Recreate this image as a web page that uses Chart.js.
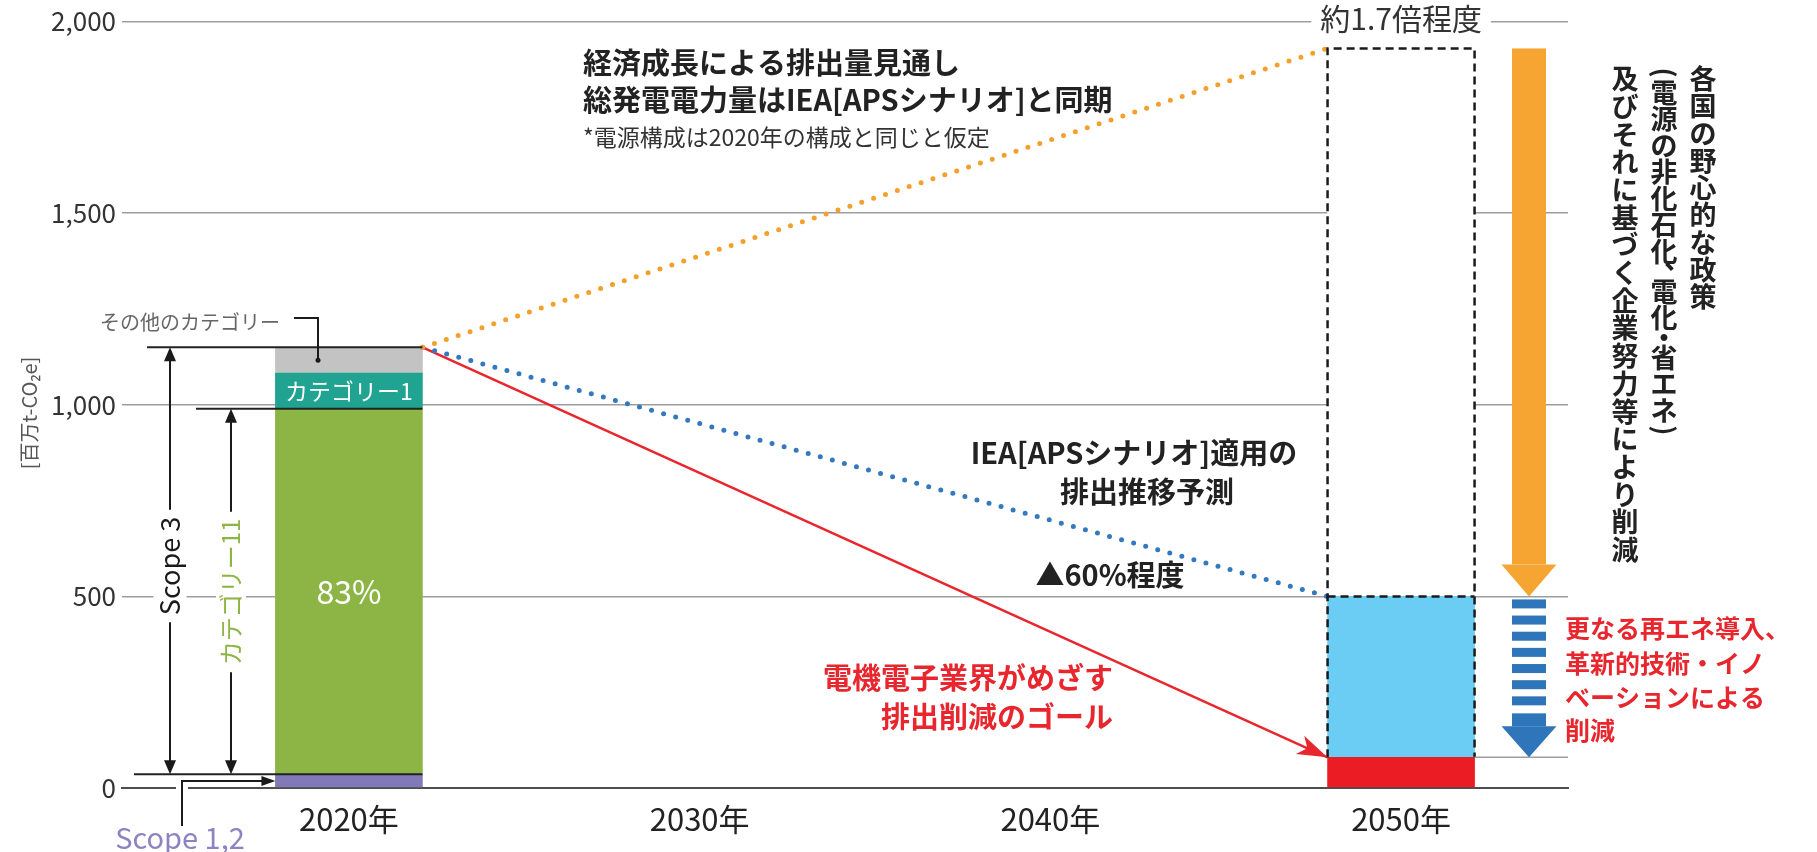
<!DOCTYPE html>
<html><head><meta charset="utf-8">
<script src="https://cdn.jsdelivr.net/npm/chart.js@4.4.1/dist/chart.umd.min.js"></script>
<style>html,body{margin:0;padding:0;background:#fff;overflow:hidden}canvas{display:block}</style>
</head><body>
<canvas id="c" width="1817" height="852"></canvas>
<script>
// ---- data ----
const barYears = [2020, 2050];
const xTickYears = [2020, 2030, 2040, 2050];
const yTickValues = [0, 500, 1000, 1500, 2000];
const scope12 = [36, null];
const category11 = [954, null];
const category1 = [93, null];
const otherCategories = [67, null];
const goal2050 = [null, 80];
const apsScenario2050 = [null, 420];
const growthOutlook2050 = [null, 1430];
const trendYears = [2022.1, 2047.9];
const growthTrend = [1150, 1930];
const apsTrend = [1150, 500];
const goalTrend = [1150, 80];

const FONT = '"Noto Sans CJK JP", "Noto Sans", sans-serif';

function toFloating(list) {
  const base = barYears.map(() => 0);
  return list.map(arr => barYears.map((yr, i) => {
    if (arr[i] == null) return null;
    const s = base[i]; base[i] += arr[i];
    return {x: yr, y: [s, base[i]]};
  }).filter(Boolean));
}
const [dScope12, dCat11, dCat1, dOther, dGoal, dAps, dGrowth] =
  toFloating([scope12, category11, category1, otherCategories, goal2050, apsScenario2050, growthOutlook2050]);

const pts = vals => trendYears.map((x, i) => ({x, y: vals[i]}));

function setFont(ctx, size, weight) { ctx.font = `${weight || 'normal'} ${size}px ${FONT}`; }
function text(ctx, s, x, y, size, weight, color, align) {
  setFont(ctx, size, weight); ctx.fillStyle = color; ctx.textAlign = align || 'center';
  ctx.textBaseline = 'middle'; ctx.fillText(s, x, y);
}
function rotText(ctx, s, x, y, size, weight, color) {
  ctx.save(); ctx.translate(x, y); ctx.rotate(-Math.PI / 2);
  setFont(ctx, size, weight);
  const w = ctx.measureText(s).width;
  ctx.fillStyle = '#fff'; ctx.fillRect(-w / 2 - 6, -size / 2 - 3, w + 12, size + 6);
  ctx.fillStyle = color; ctx.textAlign = 'center'; ctx.textBaseline = 'middle';
  ctx.fillText(s, 0, 0); ctx.restore();
  return w;
}
function seg(ctx, x1, y1, x2, y2) { ctx.beginPath(); ctx.moveTo(x1, y1); ctx.lineTo(x2, y2); ctx.stroke(); }
function tri(ctx, a, b, c, color) { ctx.fillStyle = color; ctx.beginPath(); ctx.moveTo(a[0], a[1]); ctx.lineTo(b[0], b[1]); ctx.lineTo(c[0], c[1]); ctx.closePath(); ctx.fill(); }
function vertical(ctx, chars, x, yTop, step, size, color) {
  setFont(ctx, size, 'bold'); ctx.fillStyle = color; ctx.textAlign = 'center'; ctx.textBaseline = 'middle';
  let y = yTop;
  const half = '()、・';
  for (const ch of chars) {
    const st = half.includes(ch) ? step * 0.5 : step;
    if (ch === '(' || ch === ')') {
      ctx.save(); ctx.translate(x, y + st / 2); ctx.rotate(Math.PI / 2);
      ctx.fillText(ch, 0, 0); ctx.restore();
    } else if (ch === '、') {
      ctx.fillText(ch, x + size * 0.5, y + st / 2 - size * 0.45);
    } else {
      ctx.fillText(ch, x, y + st / 2);
    }
    y += st;
  }
}

const annot = {
  id: 'annot',
  afterDatasetsDraw(chart) {
    const {ctx, chartArea: ca, scales: {y}} = chart;
    const Y = v => y.getPixelForValue(v);
    const b20 = chart.getDatasetMeta(3).data[0];
    const b50 = chart.getDatasetMeta(7).data[0];
    const l20 = b20.x - b20.width / 2, r20 = b20.x + b20.width / 2;
    const l50 = b50.x - b50.width / 2, r50 = b50.x + b50.width / 2;
    const top20 = scope12[0] + category11[0] + category1[0] + otherCategories[0];
    const s12 = scope12[0], c11top = scope12[0] + category11[0];
    const dark = '#1a1a1a';
    ctx.save();

    // ---- 2050 dashed outline ----
    const topBox = goal2050[1] + apsScenario2050[1] + growthOutlook2050[1];
    const apsTop = goal2050[1] + apsScenario2050[1];
    ctx.strokeStyle = dark; ctx.lineWidth = 2.5; ctx.setLineDash([8, 5]);
    ctx.beginPath();
    ctx.moveTo(l50, Y(goal2050[1])); ctx.lineTo(l50, Y(topBox)); ctx.lineTo(r50, Y(topBox)); ctx.lineTo(r50, Y(goal2050[1]));
    ctx.stroke();
    seg(ctx, l50, Y(apsTop), r50, Y(apsTop));
    ctx.setLineDash([]);
    ctx.strokeStyle = '#9E9E9E'; ctx.lineWidth = 1.5;
    seg(ctx, r50, Y(goal2050[1]), ca.right, Y(goal2050[1]));

    // ---- red arrowhead ----
    const rm = chart.getDatasetMeta(2).data;
    const p0 = rm[0], p1 = rm[1];
    const ang = Math.atan2(p1.y - p0.y, p1.x - p0.x);
    const ca_ = Math.cos(ang), sa = Math.sin(ang);
    const L = 30, W = 10, N = 22;
    ctx.fillStyle = '#E8262D'; ctx.beginPath();
    ctx.moveTo(p1.x, p1.y);
    ctx.lineTo(p1.x - L * ca_ - W * sa, p1.y - L * sa + W * ca_);
    ctx.lineTo(p1.x - N * ca_, p1.y - N * sa);
    ctx.lineTo(p1.x - L * ca_ + W * sa, p1.y - L * sa - W * ca_);
    ctx.closePath(); ctx.fill();

    // ---- brackets left of 2020 bar ----
    ctx.strokeStyle = '#222'; ctx.lineWidth = 2;
    seg(ctx, 147, Y(top20), r20, Y(top20));
    seg(ctx, 196, Y(c11top), r20, Y(c11top));
    seg(ctx, 134, Y(s12), r20, Y(s12));
    const sx = 170, sc = 566;
    const sw = rotText(ctx, 'Scope 3', sx, sc, 27, 'normal', '#1a1a1a');
    ctx.strokeStyle = '#1a1a1a'; ctx.lineWidth = 2;
    seg(ctx, sx, Y(top20) + 6, sx, sc - sw / 2 - 7);
    seg(ctx, sx, sc + sw / 2 + 7, sx, Y(s12) - 6);
    tri(ctx, [sx, Y(top20)], [sx - 6, Y(top20) + 14], [sx + 6, Y(top20) + 14], '#1a1a1a');
    tri(ctx, [sx, Y(s12)], [sx - 6, Y(s12) - 14], [sx + 6, Y(s12) - 14], '#1a1a1a');
    const cx = 231, cc = 592;
    const cw = rotText(ctx, 'カテゴリー11', cx, cc, 24, 'normal', '#8DB545');
    ctx.strokeStyle = '#1a1a1a';
    seg(ctx, cx, Y(c11top) + 6, cx, cc - cw / 2 - 7);
    seg(ctx, cx, cc + cw / 2 + 7, cx, Y(s12) - 6);
    tri(ctx, [cx, Y(c11top)], [cx - 6, Y(c11top) + 14], [cx + 6, Y(c11top) + 14], '#1a1a1a');
    tri(ctx, [cx, Y(s12)], [cx - 6, Y(s12) - 14], [cx + 6, Y(s12) - 14], '#1a1a1a');

    // Scope 1,2 leader
    ctx.fillStyle = '#fff'; ctx.fillRect(176, Y(0) - 3, 12, 6);
    const ym = Y(s12 / 2);
    ctx.strokeStyle = '#1a1a1a'; ctx.lineWidth = 2;
    ctx.beginPath(); ctx.moveTo(182, 826); ctx.lineTo(182, ym); ctx.lineTo(l20 - 12, ym); ctx.stroke();
    tri(ctx, [l20, ym], [l20 - 14, ym - 5], [l20 - 14, ym + 5], '#1a1a1a');
    text(ctx, 'Scope 1,2', 180, 838, 29, 'normal', '#8C84C0');

    // その他のカテゴリー leader
    const om = Y(c11top + category1[0] + otherCategories[0] / 2);
    ctx.lineWidth = 2;
    ctx.beginPath(); ctx.moveTo(294, 318); ctx.lineTo(318, 318); ctx.lineTo(318, om); ctx.stroke();
    ctx.fillStyle = '#1a1a1a'; ctx.beginPath(); ctx.arc(318, om, 2.5, 0, Math.PI * 2); ctx.fill();
    text(ctx, 'その他のカテゴリー', 100, 322, 20, 'normal', '#666', 'left');

    text(ctx, 'カテゴリー1', b20.x, Y(c11top + category1[0] / 2), 23, 'normal', '#fff');
    text(ctx, '83%', b20.x, Y((s12 + c11top) / 2), 32, 'normal', '#fff');

    // ---- 約1.7倍程度 ----
    setFont(ctx, 30, 'normal');
    const tw = ctx.measureText('約1.7倍程度').width;
    ctx.fillStyle = '#fff'; ctx.fillRect(b50.x - tw / 2 - 9, Y(2000) - 14, tw + 18, 28);
    text(ctx, '約1.7倍程度', b50.x, 19, 30, 'normal', '#333');

    // ---- orange arrow ----
    const ax = 1529, sh = 17, hw = 27.5;
    const oTop = Y(topBox), oTip = Y(apsTop);
    ctx.fillStyle = '#F6A532';
    ctx.fillRect(ax - sh, oTop, sh * 2, oTip - 32 - oTop);
    tri(ctx, [ax - hw, oTip - 32], [ax + hw, oTip - 32], [ax, oTip], '#F6A532');

    // ---- blue striped arrow ----
    const bTop = Y(apsTop) + 3, bTip = Y(goal2050[1]);
    const headStart = bTip - 31, solidStart = headStart - 13, stripeEnd = solidStart - 8;
    const n = 7, h = 9, g = ((stripeEnd - bTop) - n * h) / (n - 1);
    ctx.fillStyle = '#2E75BA';
    for (let i = 0; i < n; i++) ctx.fillRect(ax - sh, bTop + i * (h + g), sh * 2, h);
    ctx.fillRect(ax - sh, solidStart, sh * 2, headStart - solidStart);
    tri(ctx, [ax - hw, headStart], [ax + hw, headStart], [ax, bTip], '#2E75BA');

    // ---- annotation texts ----
    text(ctx, '経済成長による排出量見通し', 583, 63, 29, 'bold', '#222', 'left');
    text(ctx, '総発電電力量はIEA[APSシナリオ]と同期', 583, 100, 29, 'bold', '#222', 'left');
    text(ctx, '*電源構成は2020年の構成と同じと仮定', 583, 137, 23, 'normal', '#333', 'left');
    text(ctx, 'IEA[APSシナリオ]適用の', 1134, 453, 29, 'bold', '#222');
    text(ctx, '排出推移予測', 1147, 492, 29, 'bold', '#222');
    text(ctx, '▲60%程度', 1110, 575, 29, 'bold', '#222');
    text(ctx, '電機電子業界がめざす', 1113, 678, 29, 'bold', '#E8262D', 'right');
    text(ctx, '排出削減のゴール', 1113, 717, 29, 'bold', '#E8262D', 'right');
    const redLines = ['更なる再エネ導入、', '革新的技術・イノ', 'ベーションによる', '削減'];
    const redY = [628, 663, 697, 730];
    redLines.forEach((s, i) => text(ctx, s, 1565, redY[i], 25, 'bold', '#E8262D', 'left'));

    vertical(ctx, '各国の野心的な政策', 1703, 65, 27.3, 27, '#222');
    vertical(ctx, '(電源の非化石化、電化・省エネ)', 1664, 66, 26.5, 27, '#222');
    vertical(ctx, '及びそれに基づく企業努力等により削減', 1625, 65, 27.7, 27, '#222');

    ctx.save(); ctx.translate(29, 413); ctx.rotate(-Math.PI / 2);
    setFont(ctx, 20, 'normal'); ctx.fillStyle = '#555'; ctx.textAlign = 'center'; ctx.textBaseline = 'middle';
    ctx.fillText('[百万t-CO₂e]', 0, 0); ctx.restore();

    ctx.restore();
  }
};

const barCommon = {type: 'bar', grouped: false, barThickness: 147, borderWidth: 0, order: 1};

new Chart(document.getElementById('c'), {
  type: 'bar',
  data: {
    datasets: [
      {type: 'line', label: '経済成長', data: pts(growthTrend), borderColor: '#F5A02C', borderWidth: 5,
        borderDash: [0, 12.5], borderCapStyle: 'round', pointRadius: 0, fill: false, order: 0},
      {type: 'line', label: 'IEA APS', data: pts(apsTrend), borderColor: '#3479BE', borderWidth: 5,
        borderDash: [0, 12.5], borderCapStyle: 'round', pointRadius: 0, fill: false, order: 0},
      {type: 'line', label: 'ゴール', data: pts(goalTrend), borderColor: '#E8262D', borderWidth: 2.5,
        pointRadius: 0, fill: false, order: 0},
      {...barCommon, label: 'Scope 1,2', data: dScope12, backgroundColor: '#8279B8'},
      {...barCommon, label: 'カテゴリー11', data: dCat11, backgroundColor: '#8DB545'},
      {...barCommon, label: 'カテゴリー1', data: dCat1, backgroundColor: '#21A392'},
      {...barCommon, label: 'その他のカテゴリー', data: dOther, backgroundColor: '#C3C3C3'},
      {...barCommon, label: '2050ゴール', data: dGoal, backgroundColor: '#EC1C24'},
      {...barCommon, label: 'IEA APS 2050', data: dAps, backgroundColor: '#6BCDF4'},
      {...barCommon, label: '経済成長 2050', data: dGrowth, backgroundColor: '#ffffff'}
    ]
  },
  options: {
    responsive: false,
    devicePixelRatio: 1,
    animation: false,
    layout: {padding: {top: 17, right: 249, bottom: 0, left: 0}},
    plugins: {legend: {display: false}, tooltip: {enabled: false}},
    scales: {
      x: {
        type: 'linear', min: 2013.53, max: 2054.76, offset: false,
        grid: {display: false, drawTicks: false, tickLength: 0},
        border: {display: true, color: '#4d4d4d', width: 2},
        ticks: {padding: 13, font: {family: FONT, size: 31}, color: '#222',
          callback: v => v + '年', autoSkip: false, maxRotation: 0},
        afterBuildTicks: s => { s.ticks = xTickYears.map(v => ({value: v})); },
        afterFit: s => { s.height = 64; }
      },
      y: {
        min: 0, max: 2000,
        grid: {color: c => (c.tick && c.tick.value === 0) ? '#4d4d4d' : '#9E9E9E',
          lineWidth: c => (c.tick && c.tick.value === 0) ? 2 : 1.5, drawTicks: false, tickLength: 0},
        border: {display: false},
        ticks: {padding: 6, font: {family: FONT, size: 26}, color: '#333',
          callback: v => Number(v).toLocaleString('en-US')},
        afterBuildTicks: s => { s.ticks = yTickValues.map(v => ({value: v})); },
        afterFit: s => { s.width = 122; }
      }
    }
  },
  plugins: [annot]
});
</script>
</body></html>
